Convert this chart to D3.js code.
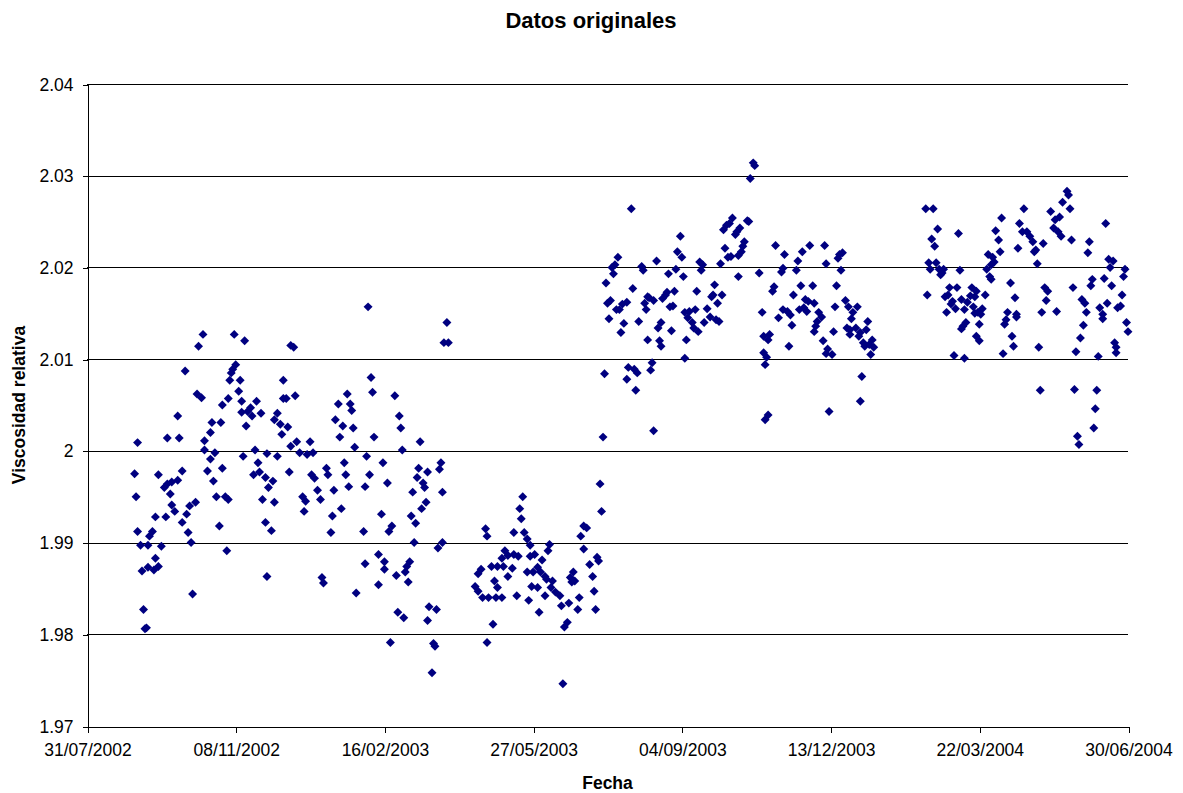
<!DOCTYPE html>
<html>
<head>
<meta charset="utf-8">
<script src="https://d3js.org/d3.v7.min.js"></script>
<style>
  body { margin: 0; background: #fff; }
  text { font-family: 'Liberation Sans', Arial, sans-serif; fill: #000; }
</style>
</head>
<body>
<svg width="1183" height="793"></svg>
<script>
// fecha de referencia: los lotes guardan [dias desde inicio, viscosidad relativa]
var inicio = '31/07/2002';
var etiquetasX = ['31/07/2002', '08/11/2002', '16/02/2003', '27/05/2003', '04/09/2003', '13/12/2003', '22/03/2004', '30/06/2004'];
var valoresY = [1.97, 1.98, 1.99, 2, 2.01, 2.02, 2.03, 2.04];

// ago 2002 - abr 2003
var lote1 = [[104,2.0042],[61,2.0038],[84,2.0031],[90,2.0031],[83,2.0020],[54,2.0014],[62,2.0014],[34,2.0009],[79,2.0011],[79,2.0001],[86,1.9998],[83,1.9991],[105,1.9994],[32,1.9975],[48,1.9974],[64,1.9978],[81,1.9978],[91,1.9981],[85,1.9967],[54,1.9964],[57,1.9966],[61,1.9968],[52,1.9960],[56,1.9953],[33,1.9950],[87,1.9950],[93,1.9950],[95,1.9947],[57,1.9941],[59,1.9934],[69,1.9940],[73,1.9944],[67,1.9931],[46,1.9928],[53,1.9928],[64,1.9922],[89,1.9918],[34,1.9912],[44,1.9912],[42,1.9907],[68,1.9911],[70,1.9900],[36,1.9897],[41,1.9897],[50,1.9896],[94,1.9891],[46,1.9883],[37,1.9869],[41,1.9873],[45,1.9870],[48,1.9874],[71,1.9844],[38,1.9827],[40,1.9807],[39,1.9806],
  [78,2.0127],[75,2.0114],[99,2.0127],[106,2.0120],[139,2.0113],[137,2.0115],[66,2.0087],[100,2.0094],[98,2.0089],[97,2.0085],[96,2.0077],[103,2.0077],[132,2.0077],[102,2.0065],[74,2.0062],[77,2.0058],[95,2.0057],[91,2.0050],[104,2.0054],[114,2.0054],[132,2.0057],[134,2.0057],[140,2.0060],[110,2.0047],[108,2.0043],[111,2.0038],[117,2.0041],[128,2.0041],[126,2.0034],[130,2.0029],[135,2.0026],[131,2.0018],[107,2.0027],[137,2.0005],[141,2.0010],[143,1.9998],[148,1.9996],[113,2.0001],[121,1.9997],[128,1.9994],[115,1.9987],[112,1.9974],[116,1.9977],[120,1.9971],[125,1.9967],[122,1.9960],[136,1.9977],[118,1.9947],[126,1.9944],[145,1.9950],[147,1.9945],[146,1.9934],[120,1.9922],[124,1.9913],[121,1.9863],[158,1.9862],[159,1.9856],
  [189,2.0157],[242,2.0140],[240,2.0118],[243,2.0118],[191,2.0080],[192,2.0064],[207,2.0060],[175,2.0062],[177,2.0051],[178,2.0044],[169,2.0051],[210,2.0038],[167,2.0034],[172,2.0027],[179,2.0025],[211,2.0025],[170,2.0015],[193,2.0015],[224,2.0010],[180,2.0004],[150,2.0010],[152,1.9998],[212,2.0001],[188,1.9994],[199,1.9987],[173,1.9987],[161,1.9981],[162,1.9974],[151,1.9974],[153,1.9970],[174,1.9974],[190,1.9974],[223,1.9981],[229,1.9977],[222,1.9971],[238,1.9987],[237,1.9980],[202,1.9965],[176,1.9961],[187,1.9961],[155,1.9957],[157,1.9947],[166,1.9957],[226,1.9965],[227,1.9960],[219,1.9955],[239,1.9955],[228,1.9944],[225,1.9937],[171,1.9937],[165,1.9929],[198,1.9931],[218,1.9929],
  [221,1.9921],[164,1.9911],[186,1.9912],[203,1.9912],[205,1.9918],[220,1.9900],[239,1.9900],[236,1.9894],[196,1.9887],[187,1.9877],[200,1.9879],[200,1.9871],[217,1.9879],[215,1.9874],[214,1.9868],[208,1.9864],[216,1.9857],[196,1.9854],[181,1.9845],[209,1.9824],[213,1.9818],[230,1.9830],[235,1.9827],[229,1.9815],[204,1.9791],[233,1.9790],[234,1.9787],[232,1.9758]];

// abr - ago 2003
var lote2 = [[345,1.9964],[346,1.9934],[293,1.9950],[291,1.9937],[292,1.9926],[268,1.9915],[269,1.9907],[287,1.9911],[294,1.9911],[296,1.9904],[298,1.9897],[336,1.9916],[334,1.9918],[332,1.9907],[311,1.9898],[310,1.9891],[334,1.9893],[281,1.9891],[283,1.9886],[279,1.9883],[287,1.9887],[290,1.9885],[298,1.9885],[301,1.9887],[306,1.9881],[343,1.9884],[344,1.9880],[338,1.9876],[272,1.9874],[276,1.9874],[280,1.9874],[286,1.9872],[283,1.9863],[265,1.9871],[263,1.9866],[296,1.9868],[300,1.9868],[303,1.9873],[305,1.9868],[308,1.9863],[309,1.9860],[327,1.9868],[325,1.9862],[328,1.9858],[326,1.9857],[340,1.9863],[274,1.9858],[276,1.9851],[261,1.9852],[263,1.9847],[299,1.9852],[303,1.9851],[313,1.9858],[312,1.9851],[315,1.9846],[318,1.9842],[341,1.9847],[266,1.9840],[270,1.9840],[275,1.9840],[279,1.9840],[289,1.9842],[297,1.9837],[308,1.9842],[331,1.9840],[324,1.9834],[319,1.9831],[330,1.9827],[342,1.9827],[304,1.9824],[323,1.9813],[321,1.9808],[273,1.9811],[269,1.9791],[320,1.9746]];

// ago - dic 2003
var lote3 = [[366,2.0264],[399,2.0234],[397,2.0217],[400,2.0211],[357,2.0211],[355,2.0203],[353,2.0200],[354,2.0193],[383,2.0207],[373,2.0201],[374,2.0197],[391,2.0193],[396,2.0198],[401,2.0190],[349,2.0183],[367,2.0177],[395,2.0174],[410,2.0174],[389,2.0170],[390,2.0173],[387,2.0166],[352,2.0164],[350,2.0161],[377,2.0168],[378,2.0167],[381,2.0164],[375,2.0161],[376,2.0154],[363,2.0162],[360,2.0160],[356,2.0154],[358,2.0154],[392,2.0157],[394,2.0158],[402,2.0151],[405,2.0152],[409,2.0154],[404,2.0145],[407,2.0140],[408,2.0134],[411,2.0130],[351,2.0144],[371,2.0141],[361,2.0139],[359,2.0129],[386,2.0140],[384,2.0134],[393,2.0131],[377,2.0121],[385,2.0120],[386,2.0114],[403,2.0121],[402,2.0101],[380,2.0096],[379,2.0088],[364,2.0091],[368,2.0089],[370,2.0085],[348,2.0084],[363,2.0078],[369,2.0066],[381,2.0022],[347,2.0015],
  [448,2.0314],[449,2.0311],[446,2.0297],[434,2.0254],[444,2.0251],[445,2.0250],[428,2.0241],[430,2.0246],[432,2.0248],[437,2.0239],[439,2.0243],[436,2.0236],[442,2.0228],[441,2.0223],[440,2.0217],[438,2.0213],[463,2.0224],[429,2.0221],[431,2.0211],[433,2.0212],[426,2.0204],[412,2.0206],[414,2.0203],[413,2.0197],[438,2.0190],[452,2.0194],[422,2.0181],[421,2.0170],[420,2.0168],[427,2.0170],[424,2.0161],[462,2.0179],[461,2.0174],[417,2.0155],[419,2.0146],[415,2.0140],[423,2.0143],[425,2.0141],[454,2.0151],[455,2.0125],[458,2.0121],[459,2.0127],
  [469,2.0214],[481,2.0217],[486,2.0224],[496,2.0224],[478,2.0207],[506,2.0214],[508,2.0216],[505,2.0210],[497,2.0204],[467,2.0195],[468,2.0199],[477,2.0197],[507,2.0197],[480,2.0180],[488,2.0180],[504,2.0180],[475,2.0170],[483,2.0165],[485,2.0163],[489,2.0161],[510,2.0164],[512,2.0157],[518,2.0157],[468,2.0154],[471,2.0152],[465,2.0145],[473,2.0148],[479,2.0154],[482,2.0156],[484,2.0152],[492,2.0151],[494,2.0146],[491,2.0141],[490,2.0136],[489,2.0130],[503,2.0157],[515,2.0151],[514,2.0144],[474,2.0137],[502,2.0130],[511,2.0134],[513,2.0132],[517,2.0134],[520,2.0129],[513,2.0127],[519,2.0125],[525,2.0141],[524,2.0132],[495,2.0120],[522,2.0118],[526,2.0116],[528,2.0121],[529,2.0113],[523,2.0114],[527,2.0105],[472,2.0114],[455,2.0107],[457,2.0102],[456,2.0094],[498,2.0111],[497,2.0106],[501,2.0105],[521,2.0081],[520,2.0054],[499,2.0043],[458,2.0039],[456,2.0034]];

// feb - jun 2004
var lote4 = [[564,2.0264],[569,2.0264],[572,2.0242],[586,2.0237],[568,2.0231],[570,2.0223],[615,2.0254],[611,2.0240],[613,2.0230],[630,2.0264],[627,2.0248],[629,2.0239],[626,2.0221],[614,2.0217],[606,2.0214],[609,2.0211],[610,2.0206],[608,2.0203],[566,2.0205],[567,2.0198],[571,2.0205],[573,2.0198],[575,2.0194],[574,2.0192],[576,2.0198],[587,2.0197],[605,2.0198],[607,2.0190],[608,2.0187],[621,2.0183],[565,2.0170],[580,2.0178],[585,2.0178],[577,2.0168],[579,2.0170],[595,2.0178],[598,2.0174],[604,2.0170],[597,2.0168],[594,2.0169],[624,2.0167],[581,2.0160],[582,2.0163],[584,2.0155],[578,2.0151],[588,2.0165],[592,2.0162],[590,2.0154],[596,2.0157],[599,2.0151],[602,2.0155],[601,2.0149],[597,2.0150],[619,2.0151],[618,2.0143],[617,2.0138],[625,2.0149],[625,2.0146],[600,2.0138],[591,2.0140],[589,2.0136],[588,2.0133],[598,2.0125],[600,2.0120],[622,2.0125],[623,2.0114],[583,2.0104],[590,2.0101],[616,2.0106],
  [659,2.0283],[660,2.0279],[656,2.0271],[661,2.0264],[648,2.0261],[654,2.0255],[651,2.0252],[650,2.0243],[653,2.0239],[655,2.0234],[685,2.0248],[632,2.0239],[634,2.0234],[636,2.0228],[637,2.0217],[638,2.0219],[643,2.0226],[662,2.0230],[674,2.0228],[673,2.0216],[639,2.0204],[687,2.0209],[690,2.0207],[688,2.0200],[698,2.0198],[697,2.0190],[644,2.0178],[646,2.0174],[663,2.0178],[676,2.0187],[675,2.0180],[684,2.0188],[689,2.0180],[696,2.0170],[645,2.0164],[669,2.0165],[671,2.0161],[686,2.0161],[695,2.0158],[693,2.0156],[642,2.0151],[652,2.0152],[672,2.0151],[681,2.0156],[683,2.0149],[683,2.0144],[670,2.0137],[699,2.0140],[700,2.0130],[668,2.0123],[640,2.0113],[665,2.0108],[691,2.0118],[692,2.0113],[692,2.0107],[680,2.0103],[641,2.0066],[664,2.0067],[679,2.0066],[678,2.0046],[677,2.0025],[666,2.0016],[667,2.0007]];

var plotIzq = 87, plotDer = 1128, plotSup = 84, plotInf = 726;

var parseFecha = d3.utcParse('%d/%m/%Y');
var fechaInicio = parseFecha(inicio);
var fechasX = etiquetasX.map(parseFecha);

var x = d3.scaleUtc().domain([fechasX[0], fechasX[fechasX.length - 1]]).range([plotIzq, plotDer]);
var y = d3.scaleLinear().domain([1.97, 2.04]).range([plotInf, plotSup]);

var svg = d3.select('svg');

// lineas de division horizontales
svg.append('g')
  .selectAll('line')
  .data(valoresY.slice(1))
  .enter()
  .append('line')
  .attr('x1', plotIzq)
  .attr('x2', plotDer)
  .attr('y1', function (d) { return Math.round(y(d)) + 0.5; })
  .attr('y2', function (d) { return Math.round(y(d)) + 0.5; })
  .style('stroke', '#000')
  .style('stroke-width', 1)
  .style('shape-rendering', 'crispEdges');

// eje Y
var ejeY = svg.append('g')
  .attr('transform', 'translate(' + (plotIzq + 0.5) + ',0.5)')
  .call(d3.axisLeft(y).tickValues(valoresY).tickFormat(d3.format('')).tickSize(5).tickSizeOuter(0).tickPadding(9));

// eje X
var ejeX = svg.append('g')
  .attr('transform', 'translate(0.5,' + (plotInf + 0.5) + ')')
  .call(d3.axisBottom(x).tickValues(fechasX).tickFormat(d3.utcFormat('%d/%m/%Y')).tickSize(6).tickSizeOuter(0).tickPadding(11));

[ejeY, ejeX].forEach(function (g) {
  g.selectAll('path, line').style('stroke', '#000').style('shape-rendering', 'crispEdges');
  g.selectAll('text').style('font-family', "'Liberation Sans', Arial, sans-serif").style('font-size', '17.5px').style('fill', '#000');
});

// titulo y rotulos
svg.append('text')
  .attr('x', 591)
  .attr('y', 28)
  .attr('text-anchor', 'middle')
  .style('font-size', '22px')
  .style('font-weight', 'bold')
  .text('Datos originales');

svg.append('text')
  .attr('x', (plotIzq + plotDer) / 2)
  .attr('y', 789)
  .attr('text-anchor', 'middle')
  .style('font-size', '17.5px')
  .style('font-weight', 'bold')
  .text('Fecha');

svg.append('text')
  .attr('transform', 'translate(25,' + (plotSup + plotInf) / 2 + ')rotate(-90)')
  .attr('text-anchor', 'middle')
  .style('font-size', '17.5px')
  .style('font-weight', 'bold')
  .text('Viscosidad relativa');

// puntos (rombos)
var rombo = d3.symbol().type(d3.symbolSquare).size(40);
var datos = lote1.concat(lote2, lote3, lote4);

svg.append('g')
  .selectAll('path')
  .data(datos)
  .enter()
  .append('path')
  .attr('d', rombo)
  .attr('transform', function (d) {
    return 'translate(' + x(d3.utcDay.offset(fechaInicio, d[0])) + ',' + y(d[1]) + ')rotate(45)';
  })
  .style('fill', '#000080');
</script>
</body>
</html>
